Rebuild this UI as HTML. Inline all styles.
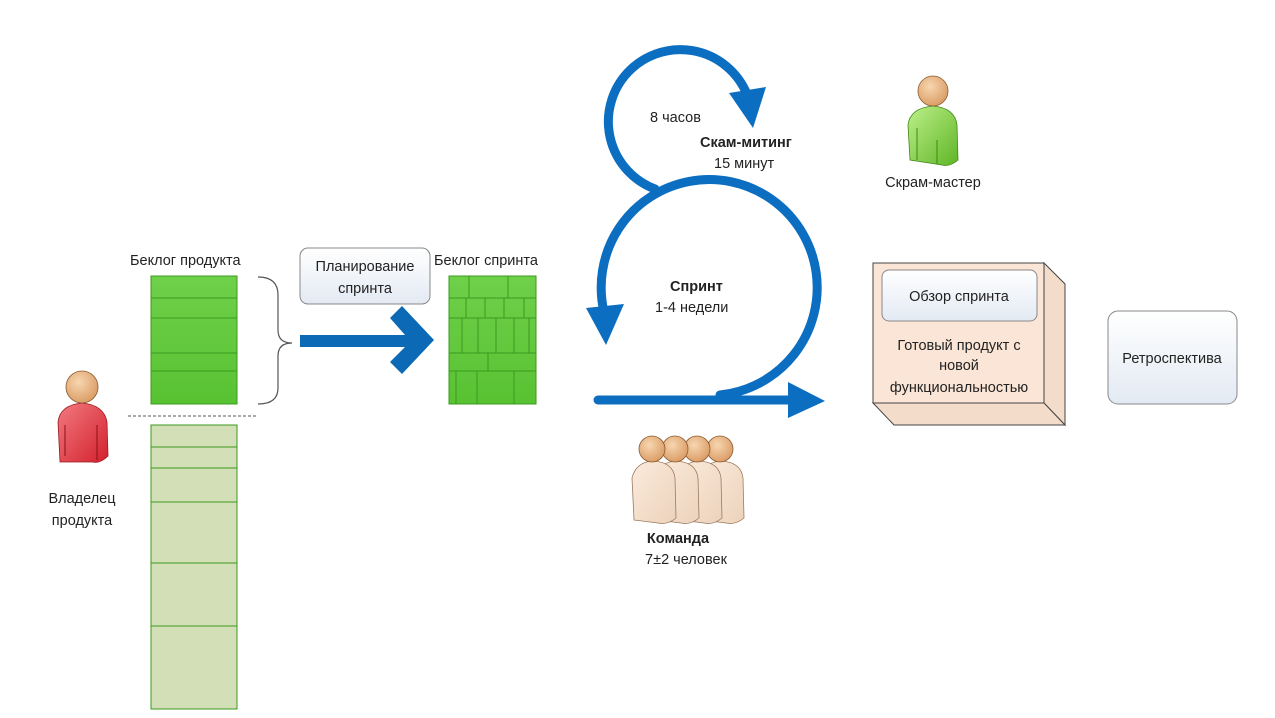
<!DOCTYPE html>
<html><head><meta charset="utf-8"><style>
html,body{margin:0;padding:0;background:#fff;}
svg{display:block;}
text{font-family:"Liberation Sans","Noto Sans CJK SC",sans-serif;font-size:14.5px;fill:#222;}
.b{font-weight:bold;}
</style></head><body>
<svg width="1275" height="718" viewBox="0 0 1275 718" xmlns="http://www.w3.org/2000/svg">
<defs>
<linearGradient id="gr" x1="0" y1="0" x2="0" y2="1"><stop offset="0" stop-color="#6fd04a"/><stop offset="1" stop-color="#58c232"/></linearGradient>
<linearGradient id="box" x1="0" y1="0" x2="0" y2="1"><stop offset="0" stop-color="#ffffff"/><stop offset="1" stop-color="#e3eaf3"/></linearGradient>
<radialGradient id="head" cx="0.4" cy="0.35" r="0.7"><stop offset="0" stop-color="#f7d6b0"/><stop offset="1" stop-color="#d99a62"/></radialGradient>
<linearGradient id="red" x1="0" y1="0" x2="1" y2="1"><stop offset="0" stop-color="#f27a80"/><stop offset="1" stop-color="#d3202c"/></linearGradient>
<linearGradient id="grn" x1="0" y1="0" x2="1" y2="1"><stop offset="0" stop-color="#bdf08a"/><stop offset="1" stop-color="#5fb526"/></linearGradient>
<linearGradient id="bei" x1="0" y1="0" x2="1" y2="1"><stop offset="0" stop-color="#fcebdc"/><stop offset="1" stop-color="#ecd2bb"/></linearGradient>
</defs>

<text x="130" y="265">Беклог продукта</text>
<rect x="151" y="276" width="86" height="128" fill="url(#gr)" stroke="#3a9a1e" stroke-width="1"/>
<g stroke="#3a9a1e" stroke-width="1">
<line x1="151" y1="298" x2="237" y2="298"/><line x1="151" y1="318" x2="237" y2="318"/>
<line x1="151" y1="353" x2="237" y2="353"/><line x1="151" y1="371" x2="237" y2="371"/>
</g>
<line x1="128" y1="416" x2="258" y2="416" stroke="#555" stroke-dasharray="3,2"/>
<rect x="151" y="425" width="86" height="284" fill="#d3dfb6" stroke="#3a9a1e"/>
<g stroke="#3a9a1e">
<line x1="151" y1="447" x2="237" y2="447"/><line x1="151" y1="468" x2="237" y2="468"/>
<line x1="151" y1="502" x2="237" y2="502"/><line x1="151" y1="563" x2="237" y2="563"/>
<line x1="151" y1="626" x2="237" y2="626"/>
</g>
<path d="M258 277 Q278 277 278 295 L278 330 Q278 343 292 343 Q278 343 278 356 L278 388 Q278 404 258 404" fill="none" stroke="#555" stroke-width="1.2"/>

<rect x="300" y="248" width="130" height="56" rx="8" fill="url(#box)" stroke="#888"/>
<text x="365" y="271" text-anchor="middle">Планирование</text>
<text x="365" y="293" text-anchor="middle">спринта</text>
<path d="M300 335 L405 335 L390 318 L402 306 L434 340 L402 374 L390 362 L405 347 L300 347 Z" fill="#0b69b5"/>

<text x="434" y="265">Беклог спринта</text>
<rect x="449" y="276" width="87" height="128" fill="url(#gr)" stroke="#3a9a1e"/>
<g stroke="#3a9a1e">
<line x1="449" y1="298" x2="536" y2="298"/><line x1="449" y1="318" x2="536" y2="318"/>
<line x1="449" y1="353" x2="536" y2="353"/><line x1="449" y1="371" x2="536" y2="371"/>
<line x1="469" y1="276" x2="469" y2="298"/><line x1="508" y1="276" x2="508" y2="298"/>
<line x1="466" y1="298" x2="466" y2="318"/><line x1="485" y1="298" x2="485" y2="318"/><line x1="504" y1="298" x2="504" y2="318"/><line x1="524" y1="298" x2="524" y2="318"/>
<line x1="462" y1="318" x2="462" y2="353"/><line x1="478" y1="318" x2="478" y2="353"/><line x1="496" y1="318" x2="496" y2="353"/><line x1="514" y1="318" x2="514" y2="353"/><line x1="529" y1="318" x2="529" y2="353"/>
<line x1="488" y1="353" x2="488" y2="371"/>
<line x1="456" y1="371" x2="456" y2="404"/><line x1="477" y1="371" x2="477" y2="404"/><line x1="514" y1="371" x2="514" y2="404"/>
</g>

<g fill="none" stroke="#0b6ec0" stroke-width="9" stroke-linecap="round">
<path d="M655 189 A72 72 0 1 1 746 92"/>
<path d="M720 395 A108 108 0 1 0 604 312"/>
<line x1="598" y1="400" x2="795" y2="400"/>
</g>
<g fill="#0b6ec0">
<polygon points="729,93 766,87 753,128"/>
<polygon points="586,308 624,304 606,345"/>
<polygon points="788,382 825,401 788,418"/>
</g>
<text x="650" y="122">8 часов</text>
<text x="700" y="147" class="b">Скам-митинг</text>
<text x="714" y="168">15 минут</text>
<text x="670" y="291" class="b">Спринт</text>
<text x="655" y="312">1-4 недели</text>

<path d="M60 462 L58 422 Q60 405 82 403 Q104 405 107 422 L108 456 Q100 464 92 462 Z" fill="url(#red)" stroke="#9a1a20" stroke-width="0.8"/>
<line x1="65" y1="425" x2="65" y2="456" stroke="#8a1018"/>
<line x1="97" y1="425" x2="97" y2="460" stroke="#8a1018"/>
<circle cx="82" cy="387" r="16" fill="url(#head)" stroke="#8a5a30" stroke-width="0.8"/>
<text x="82" y="503" text-anchor="middle">Владелец</text>
<text x="82" y="525" text-anchor="middle">продукта</text>

<path d="M910 160 L908 125 Q910 108 933 106 Q955 108 957 125 L958 160 Q950 167 942 165 Z" fill="url(#grn)" stroke="#3f8a15" stroke-width="0.8"/>
<line x1="917" y1="128" x2="917" y2="160" stroke="#3f8a15"/>
<line x1="937" y1="140" x2="937" y2="164" stroke="#3f8a15"/>
<circle cx="933" cy="91" r="15" fill="url(#head)" stroke="#8a5a30" stroke-width="0.8"/>
<text x="933" y="187" text-anchor="middle">Скрам-мастер</text>

<g stroke="#9a7a60" stroke-width="0.8" fill="url(#bei)">
<path d="M702 520 L700 478 Q704 462 721 461 Q741 462 743 478 L744 518 Q736 525 726 523 Z"/>
<path d="M680 520 L678 478 Q682 462 699 461 Q719 462 721 478 L722 518 Q714 525 704 523 Z"/>
<path d="M657 520 L655 478 Q659 462 676 461 Q696 462 698 478 L699 518 Q691 525 681 523 Z"/>
<path d="M634 520 L632 478 Q636 462 653 461 Q673 462 675 478 L676 518 Q668 525 658 523 Z"/>
</g>
<g fill="url(#head)" stroke="#8a5a30" stroke-width="0.8">
<circle cx="720" cy="449" r="13"/><circle cx="697" cy="449" r="13"/><circle cx="675" cy="449" r="13"/><circle cx="652" cy="449" r="13"/>
</g>
<text x="678" y="543" text-anchor="middle" class="b">Команда</text>
<text x="686" y="564" text-anchor="middle">7±2 человек</text>

<polygon points="1044,263 1065,284 1065,425 1044,403" fill="#f4dccb" stroke="#444"/>
<polygon points="873,403 1044,403 1065,425 894,425" fill="#f4dccb" stroke="#444"/>
<rect x="873" y="263" width="171" height="140" fill="#fbe5d6" stroke="#444"/>
<rect x="882" y="270" width="155" height="51" rx="7" fill="url(#box)" stroke="#888"/>
<text x="959" y="301" text-anchor="middle">Обзор спринта</text>
<text x="959" y="350" text-anchor="middle">Готовый продукт с</text>
<text x="959" y="370" text-anchor="middle">новой</text>
<text x="959" y="392" text-anchor="middle">функциональностью</text>

<rect x="1108" y="311" width="129" height="93" rx="10" fill="url(#box)" stroke="#888"/>
<text x="1172" y="363" text-anchor="middle">Ретроспектива</text>
</svg>
</body></html>
